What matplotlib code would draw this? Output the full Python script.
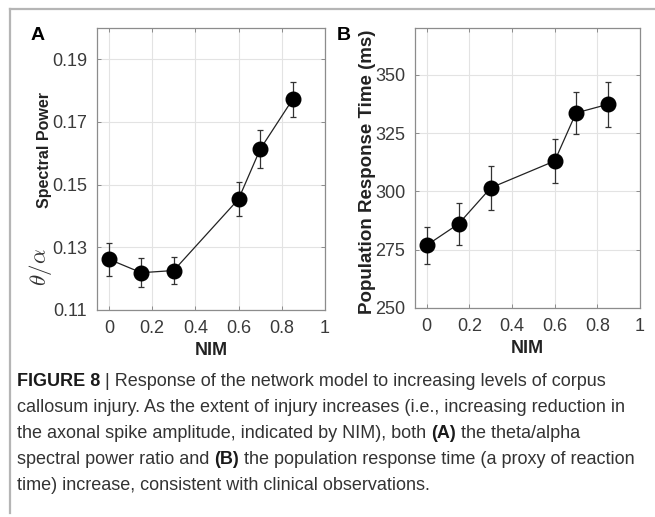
import matplotlib
matplotlib.use("Agg")
import matplotlib.pyplot as plt
from matplotlib.lines import Line2D

# ---------------- data ----------------
nim = [0.0, 0.15, 0.3, 0.6, 0.7, 0.85]
ratio_mean = [0.1262, 0.1219, 0.1226, 0.1454, 0.1613, 0.1772]
ratio_err = [0.0052, 0.0046, 0.0044, 0.0055, 0.0061, 0.0056]
rt_mean = [276.9, 286.1, 301.5, 313.0, 333.6, 337.3]
rt_err = [7.9, 9.0, 9.4, 9.3, 8.9, 9.7]

xticks = [0, 0.2, 0.4, 0.6, 0.8, 1]
xticklabels = ["0", "0.2", "0.4", "0.6", "0.8", "1"]
yticks_a = [0.11, 0.13, 0.15, 0.17, 0.19]
yticklabels_a = ["0.11", "0.13", "0.15", "0.17", "0.19"]
yticks_b = [250, 275, 300, 325, 350]
yticklabels_b = ["250", "275", "300", "325", "350"]

caption_lines = [
    [("FIGURE 8", "bold"), (" | Response of the network model to increasing levels of corpus", "light")],
    [("callosum injury. As the extent of injury increases (i.e., increasing reduction in", "light")],
    [("the axonal spike amplitude, indicated by NIM), both ", "light"), ("(A)", "bold"),
     (" the theta/alpha", "light")],
    [("spectral power ratio and ", "light"), ("(B)", "bold"),
     (" the population response time (a proxy of reaction", "light")],
    [("time) increase, consistent with clinical observations.", "light")],
]

# ---------------- figure ----------------
W, H = 655, 517
DPI = 100
fig = plt.figure(figsize=(W / DPI, H / DPI), dpi=DPI)
plt.rcParams["font.family"] = ["Liberation Sans", "DejaVu Sans"]
plt.rcParams["mathtext.fontset"] = "cm"

def px_axes(l, r, t, b):
    return [l / W, 1 - b / H, (r - l) / W, (b - t) / H]

tick_color = "#3a3a3a"
spine_color = "#8c8c8c"

def style(ax, yticks, ylabels, ylim):
    ax.set_xlim(-0.055, 1.0)
    ax.set_ylim(*ylim)
    ax.set_xticks(xticks)
    ax.set_xticklabels(xticklabels)
    ax.set_yticks(yticks)
    ax.set_yticklabels(ylabels)
    ax.grid(True, color="#e3e3e3", linewidth=0.8)
    ax.set_axisbelow(True)
    for s in ax.spines.values():
        s.set_color(spine_color)
        s.set_linewidth(0.9)
    ax.tick_params(direction="in", length=3, width=0.7, color=spine_color,
                   top=True, right=True, labelsize=13, labelcolor=tick_color, pad=7)
    ax.set_xlabel("NIM", fontsize=13, fontweight="bold", color="#222222", labelpad=4)

axA = fig.add_axes(px_axes(97, 325, 28, 310))
axA.errorbar(nim, ratio_mean, yerr=ratio_err, fmt="-o", color="#222222", ecolor="#333333",
             elinewidth=0.9, capsize=2.5, capthick=0.9, markersize=10.5,
             markerfacecolor="black", markeredgecolor="black", linewidth=0.9)
style(axA, yticks_a, yticklabels_a, (0.11, 0.20))

axB = fig.add_axes(px_axes(415, 640, 28, 308))
axB.errorbar(nim, rt_mean, yerr=rt_err, fmt="-o", color="#222222", ecolor="#333333",
             elinewidth=0.9, capsize=2.5, capthick=0.9, markersize=10.5,
             markerfacecolor="black", markeredgecolor="black", linewidth=0.9)
style(axB, yticks_b, yticklabels_b, (250, 370))

# y labels
fig.text(41 / W, 1 - 267 / H, r"$\theta/\alpha$", rotation=90, fontsize=16.5,
         ha="center", va="center", color="#333333")
fig.text(44 / W, 1 - 150 / H, "Spectral Power", rotation=90, fontsize=11.5,
         fontweight="bold", ha="center", va="center", color="#222222")
fig.text(368 / W, 1 - 172 / H, "Population Response Time (ms)", rotation=90,
         fontsize=13.5, fontweight="bold", ha="center", va="center", color="#222222")

# panel letters
fig.text(38 / W, 1 - 36 / H, "A", fontsize=14, fontweight="bold", ha="center", va="center")
fig.text(344 / W, 1 - 36 / H, "B", fontsize=14, fontweight="bold", ha="center", va="center")

# frame lines
fig.add_artist(Line2D([10 / W, 1.0], [1 - 9 / H, 1 - 9 / H], transform=fig.transFigure,
                      color="#b5b5b5", linewidth=1.6))
fig.add_artist(Line2D([10 / W, 10 / W], [1 - 9 / H, 1 - 513 / H], transform=fig.transFigure,
                      color="#b5b5b5", linewidth=1.6))

# caption
fig.canvas.draw()
renderer = fig.canvas.get_renderer()
cap_size = 13.0
y0 = 381
dy = 26.2
for i, segs in enumerate(caption_lines):
    x = 17.0
    yc = 1 - (y0 + i * dy) / H
    for txt, wt in segs:
        t = fig.text(x / W, yc, txt, fontsize=cap_size, fontweight="bold" if wt == "bold" else "normal",
                     ha="left", va="center", color="#1a1a1a" if wt == "bold" else "#333333")
        bb = t.get_window_extent(renderer=renderer)
        x += bb.width

fig.savefig("out.png", dpi=DPI)
